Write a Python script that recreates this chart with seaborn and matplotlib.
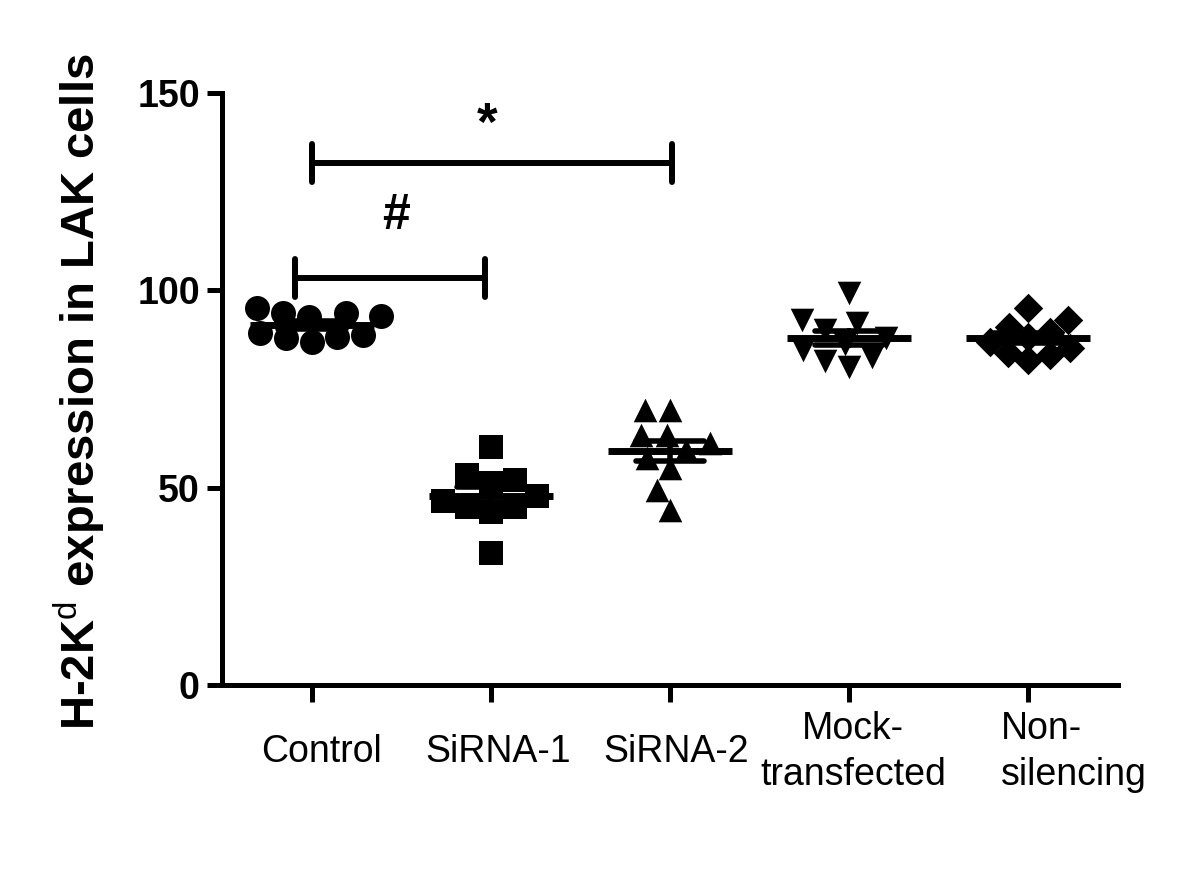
import numpy as np
import pandas as pd
import matplotlib
matplotlib.use('Agg')
import matplotlib.pyplot as plt
from matplotlib.transforms import ScaledTranslation
import seaborn as sns

sns.set_style('ticks')
plt.rcParams['font.family'] = ['Liberation Sans', 'DejaVu Sans']
plt.rcParams['mathtext.fontset'] = 'custom'
plt.rcParams['mathtext.rm'] = 'Liberation Sans'
plt.rcParams['mathtext.bf'] = 'Liberation Sans:bold'
for key in ['axes.edgecolor', 'text.color', 'axes.labelcolor', 'xtick.color', 'ytick.color']:
    plt.rcParams[key] = 'black'

# Data
group_names = ['Control', 'SiRNA-1', 'SiRNA-2', 'Mock-transfected', 'Non-silencing']
tick_labels = ['Control', 'SiRNA-1', 'SiRNA-2', 'Mock-\ntransfected', 'Non-\nsilencing']

control = [94.2, 93.2, 95.5, 94.2, 93.5, 88.2, 86.9, 87.9, 88.7, 89.2]
sirna1 = [60.3, 53.2, 51.2, 51.9, 45.1, 43.8, 45.1, 33.4, 48.0, 46.5]
sirna2 = [69.7, 69.7, 44.3, 49.4, 55.0, 63.3, 63.3, 59.5, 61.3, 57.5]
mock = [99.3, 92.5, 91.7, 90.0, 88.0, 86.5, 84.9, 83.0, 80.6, 82.0]
nonsil = [95.5, 92.5, 90.7, 89.5, 88.2, 87.0, 85.5, 84.1, 82.3, 83.5]

series = [control, sirna1, sirna2, mock, nonsil]
markers = ['o', 's', '^', 'v', 'D']
marker_sizes = [18, 17, 17, 17, 15]

df = pd.DataFrame({
    'group': np.repeat(group_names, [len(s) for s in series]),
    'value': np.concatenate(series),
})

fig = plt.figure(figsize=(12, 8.71), dpi=100)
ax = fig.add_axes([0.185, 0.2136, 0.7467, 0.6796])

# individual points
for name, vals, m, sz in zip(group_names, series, markers, marker_sizes):
    sns.swarmplot(x=[name] * len(vals), y=vals, order=group_names, marker=m,
                  size=sz, color='black', ax=ax, warn_thresh=1, zorder=2)

# mean line with SEM
sns.pointplot(data=df, x='group', y='value', order=group_names, errorbar='se',
              capsize=0.38, color='black', marker='_', markersize=89,
              markeredgewidth=5, linestyle='none',
              err_kws={'linewidth': 4, 'zorder': 3}, ax=ax, zorder=3)

ax.set_xlim(-0.5, 4.5)
ax.set_ylim(0, 150)
ax.set_yticks([0, 50, 100, 150])
ax.set_xticks(range(len(group_names)))
ax.set_xticklabels(tick_labels)
ax.set_xlabel('')

for side in ['top', 'right']:
    ax.spines[side].set_visible(False)
for side in ['left', 'bottom']:
    ax.spines[side].set_linewidth(3.6)

ax.tick_params(axis='y', length=11, width=3.6, pad=5, labelsize=27)
ax.tick_params(axis='x', length=12, width=3.6, pad=36, labelsize=27)
for lab in ax.get_yticklabels():
    lab.set_fontweight('bold')
shifts = [0.1, 0.07, 0.06, 0.04, 0.45]
for lab, dx in zip(ax.get_xticklabels(), shifts):
    lab.set_va('center')
    lab.set_linespacing(1.35)
    lab.set_transform(lab.get_transform() + ScaledTranslation(dx, 0, fig.dpi_scale_trans))
ax.get_xticklabels()[4].set_multialignment('left')

ax.set_ylabel(r'H-2K$^{\mathrm{d}}$ expression in LAK cells', fontsize=34, fontweight='bold')
ax.yaxis.set_label_coords(-0.128, 0.495)

# significance brackets
def bracket(x0, x1, y, h=4.8):
    ax.plot([x0, x1], [y, y], color='black', lw=4.3, solid_capstyle='butt', clip_on=False)
    for xx in (x0, x1):
        ax.plot([xx, xx], [y - h, y + h], color='black', lw=4.3,
                solid_capstyle='round', clip_on=False)

bracket(0, 2.01, 132.3)
ax.text(0.98, 138.1, '*', ha='center', va='baseline', fontsize=38, fontweight='bold')
bracket(-0.095, 0.97, 103.1)
ax.text(0.47, 115.5, '#', ha='center', va='baseline', fontsize=36, fontweight='bold')

fig.savefig('out.png', dpi=100)
